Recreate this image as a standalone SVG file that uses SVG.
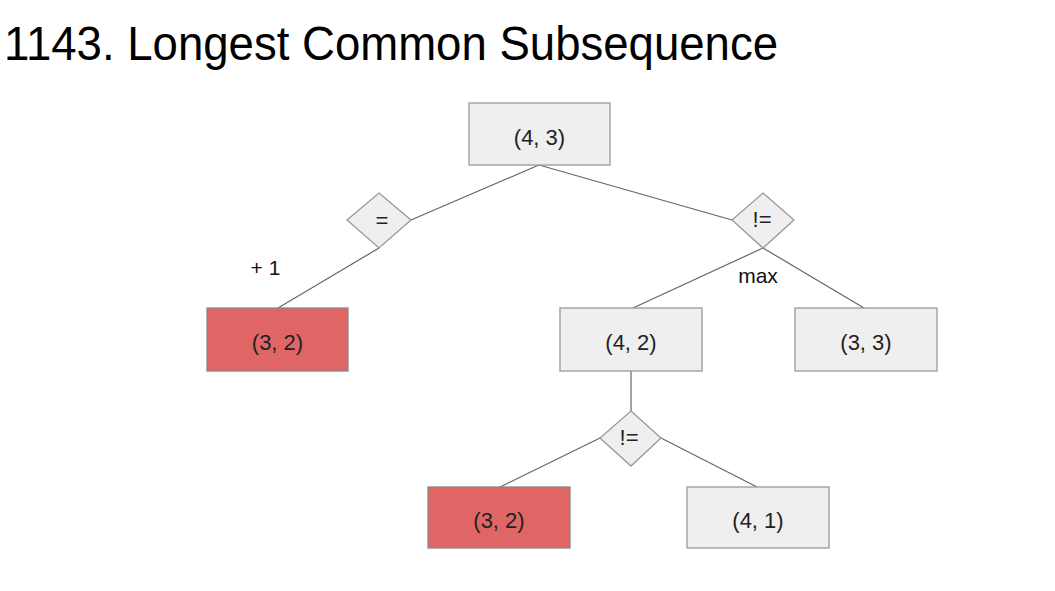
<svg xmlns="http://www.w3.org/2000/svg" width="1055" height="591" viewBox="0 0 1055 591">
<style>
.box{fill:#efefef;stroke:#999;stroke-width:1.3}
.red{fill:#e06666;stroke:#888;stroke-width:1.3}
.dia{fill:#efefef;stroke:#999;stroke-width:1.3}
.lbl{font-family:"Liberation Sans",Arial,sans-serif;font-size:22px;fill:#222;text-anchor:middle}
.edge{stroke:#666;stroke-width:1.2;fill:none}
.note{font-family:"Liberation Sans",Arial,sans-serif;font-size:21px;fill:#111;text-anchor:middle}
</style>
<rect width="1055" height="591" fill="#fff"/>
<text x="4" y="60" font-family="&quot;Liberation Sans&quot;,Arial,sans-serif" font-size="48" fill="#000" textLength="774" lengthAdjust="spacingAndGlyphs">1143. Longest Common Subsequence</text>
<g id="connectors">
<line class="edge" x1="539" y1="165" x2="411" y2="220"/>
<line class="edge" x1="539" y1="165" x2="732" y2="220"/>
<line class="edge" x1="379" y1="248" x2="278" y2="308"/>
<line class="edge" x1="763" y1="248" x2="633" y2="308"/>
<line class="edge" x1="763" y1="248" x2="864" y2="308"/>
<line class="edge" x1="631" y1="371" x2="631" y2="411"/>
<line class="edge" x1="600" y1="438" x2="500" y2="487"/>
<line class="edge" x1="661" y1="438" x2="757" y2="487"/>
</g>
<g id="n43"><rect class="box" x="469" y="103" width="141" height="62"/><text class="lbl" x="539.5" y="145">(4, 3)</text></g>
<g id="eq"><polygon class="dia" points="379,193 411,220 379,248 347,220"/><text class="lbl" x="382" y="228">=</text></g>
<g id="ne1"><polygon class="dia" points="763,193 794,220 763,248 732,220"/><text class="lbl" x="762" y="227">!=</text></g>
<g id="n32a"><rect class="red" x="207" y="308" width="141" height="63"/><text class="lbl" x="277.5" y="350">(3, 2)</text></g>
<g id="n42"><rect class="box" x="560" y="308" width="142" height="63"/><text class="lbl" x="631" y="350">(4, 2)</text></g>
<g id="n33"><rect class="box" x="795" y="308" width="142" height="63"/><text class="lbl" x="866" y="350">(3, 3)</text></g>
<g id="ne2"><polygon class="dia" points="631,411 661,438 631,466 600,438"/><text class="lbl" x="629" y="445">!=</text></g>
<g id="n32b"><rect class="red" x="428" y="487" width="142" height="61"/><text class="lbl" x="499" y="528">(3, 2)</text></g>
<g id="n41"><rect class="box" x="687" y="487" width="142" height="61"/><text class="lbl" x="758" y="528">(4, 1)</text></g>
<text class="note" x="265.5" y="275">+ 1</text>
<text class="note" x="758" y="283" font-size="22">max</text>
</svg>
